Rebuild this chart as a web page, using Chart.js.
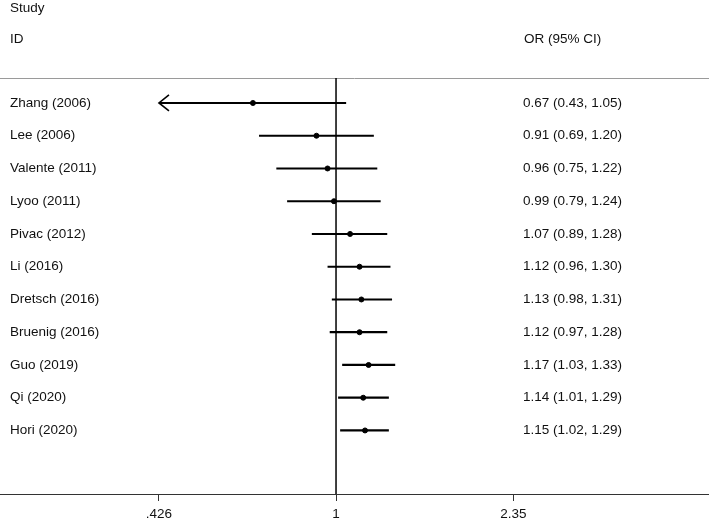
<!DOCTYPE html>
<html>
<head>
<meta charset="utf-8">
<script src="https://cdn.jsdelivr.net/npm/chart.js@4/dist/chart.umd.min.js"></script>
<style>
  body { margin: 0; background: #fff; }
  #wrap { width: 709px; height: 520px; position: relative; }
</style>
</head>
<body>
<div id="wrap"><canvas id="forest"></canvas></div>
<script>
// data
const studies = ["Zhang (2006)", "Lee (2006)", "Valente (2011)", "Lyoo (2011)", "Pivac (2012)",
    "Li (2016)", "Dretsch (2016)", "Bruenig (2016)", "Guo (2019)", "Qi (2020)", "Hori (2020)"];
const orValues = [0.67, 0.91, 0.96, 0.99, 1.07, 1.12, 1.13, 1.12, 1.17, 1.14, 1.15];
const ciLow = [0.4255, 0.69, 0.75, 0.79, 0.89, 0.96, 0.98, 0.97, 1.03, 1.01, 1.02];
const ciHigh = [1.05, 1.20, 1.22, 1.24, 1.28, 1.30, 1.31, 1.28, 1.33, 1.29, 1.29];
const tickValues = [0.426, 1, 2.35];
const tickLabels = [".426", "1", "2.35"];

const axisLo = 0.426, axisHi = 2.35;
const FONT = "Liberation Sans, Arial, sans-serif";
const FSIZE = 13.5;

// text columns, header rule, null line and arrows
const forestDecor = {
    id: "forestDecor",
    beforeDatasetsDraw(chart) {
        const { ctx, chartArea } = chart;
        ctx.save();
        ctx.strokeStyle = "#9a9a9a";
        ctx.lineWidth = 1;
        ctx.beginPath();
        ctx.moveTo(0, chartArea.top + 0.5);
        ctx.lineTo(chart.width, chartArea.top + 0.5);
        ctx.stroke();

        const x1 = chart.scales.x.getPixelForValue(1);
        ctx.strokeStyle = "#000";
        ctx.lineWidth = 1.5;
        ctx.beginPath();
        ctx.moveTo(x1, chartArea.top);
        ctx.lineTo(x1, chartArea.bottom);
        ctx.stroke();
        ctx.restore();
    },
    afterDatasetsDraw(chart) {
        const { ctx } = chart;
        const xs = chart.scales.x, ys = chart.scales.y;
        ctx.save();
        ctx.fillStyle = "#111";
        ctx.font = FSIZE + "px " + FONT;
        ctx.textBaseline = "middle";
        ctx.textAlign = "left";
        ctx.fillText("Study", 10, 8);
        ctx.fillText("ID", 10, 39);
        ctx.fillText("OR (95% CI)", 524, 39);

        studies.forEach(function (s, i) {
            const y = ys.getPixelForValue(i);
            ctx.fillText(s, 10, y);
            const txt = orValues[i].toFixed(2) + " (" + ciLow[i].toFixed(2) + ", " + ciHigh[i].toFixed(2) + ")";
            ctx.fillText(txt, 523, y);

            // arrow where CI runs past the axis range
            if (ciLow[i] < axisLo) {
                const tip = xs.getPixelForValue(axisLo);
                ctx.strokeStyle = "#000";
                ctx.lineWidth = 1.6;
                ctx.beginPath();
                ctx.moveTo(tip + 10, y - 8);
                ctx.lineTo(tip, y);
                ctx.lineTo(tip + 10, y + 8);
                ctx.stroke();
            }
        });
        ctx.restore();
    }
};

const whiskers = studies.map(function (s, i) {
    return {
        label: s,
        data: [{ x: Math.max(ciLow[i], axisLo), y: i }, { x: Math.min(ciHigh[i], axisHi), y: i }],
        showLine: true,
        borderColor: "#000",
        borderWidth: 2.2,
        pointRadius: 0
    };
});

const points = {
    label: "OR",
    data: orValues.map(function (v, i) { return { x: v, y: i }; }),
    backgroundColor: "#000",
    borderColor: "#000",
    pointRadius: 2.5
};

new Chart(document.getElementById("forest"), {
    type: "scatter",
    data: { datasets: whiskers.concat([points]) },
    options: {
        responsive: true,
        maintainAspectRatio: false,
        animation: false,
        layout: { autoPadding: false, padding: { top: 78, left: 0, right: 0, bottom: 0 } },
        plugins: { legend: { display: false }, tooltip: { enabled: false } },
        scales: {
            x: {
                type: "logarithmic",
                min: 0.198,
                max: 6.035,
                afterBuildTicks: function (scale) {
                    scale.ticks = tickValues.map(function (v) { return { value: v }; });
                },
                afterFit: function (scale) { scale.height = 26; },
                grid: { drawOnChartArea: false, drawTicks: true, tickLength: 7, color: "#333" },
                border: { display: true, color: "#333", width: 1 },
                ticks: {
                    padding: 5,
                    color: "#111",
                    font: { family: FONT, size: FSIZE },
                    maxRotation: 0,
                    autoSkip: false,
                    callback: function (value, index) { return tickLabels[index]; }
                }
            },
            y: {
                type: "linear",
                display: false,
                reverse: true,
                min: -0.763,
                max: 11.94
            }
        }
    },
    plugins: [forestDecor]
});
</script>
</body>
</html>
